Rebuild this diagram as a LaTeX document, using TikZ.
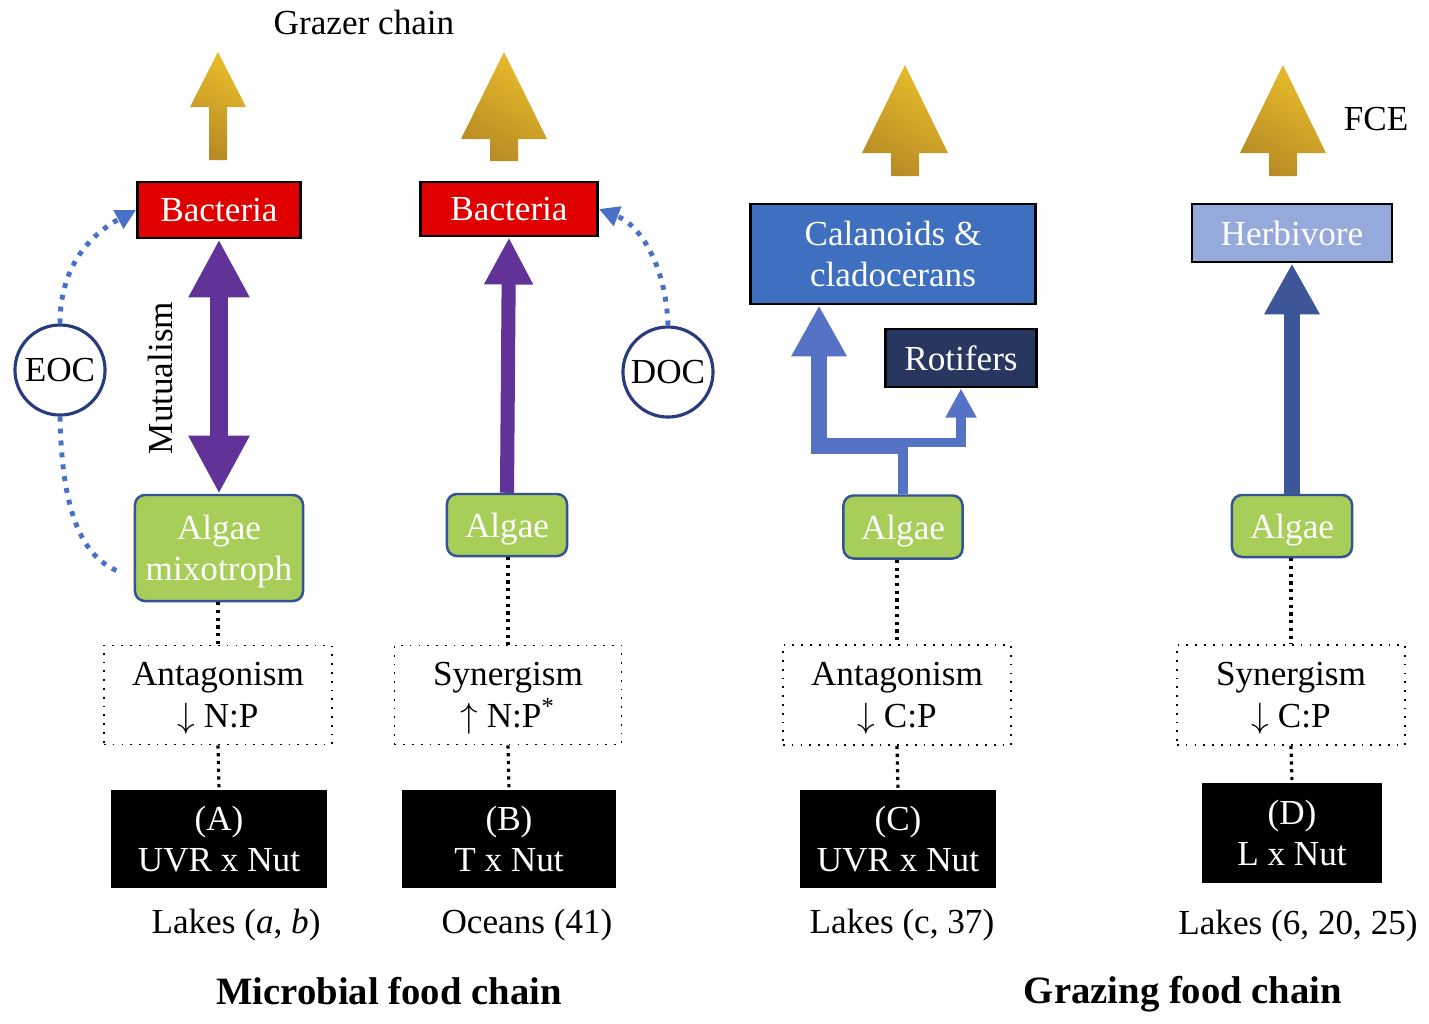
\documentclass[tikz,border=0pt]{standalone}
\usepackage{fontspec}
\setmainfont{Liberation Serif}
\usetikzlibrary{arrows.meta}
\definecolor{bactred}{RGB}{224,0,0}
\definecolor{alggreen}{RGB}{166,206,88}
\definecolor{algedge}{RGB}{52,82,150}
\definecolor{ringblue}{RGB}{40,60,125}
\definecolor{fbblue}{RGB}{72,112,200}
\definecolor{purpl}{RGB}{97,50,152}
\definecolor{calblue}{RGB}{63,111,191}
\definecolor{rotnavy}{RGB}{40,55,95}
\definecolor{herbblue}{RGB}{149,169,218}
\definecolor{branchblue}{RGB}{85,114,196}
\definecolor{herbarrow}{RGB}{60,86,152}
\definecolor{goldhi}{RGB}{232,188,42}
\definecolor{goldlo}{RGB}{184,140,36}

\begin{document}
\begin{tikzpicture}[x=0.01cm, y=0.01cm,
    every node/.style={font=\fontsize{10}{11.8}\selectfont, inner sep=0pt, align=center, text depth=0pt},
    bactbox/.style={draw=black, line width=0.8pt, fill=bactred, text=white},
    algbox/.style={draw=algedge, line width=0.7pt, fill=alggreen, text=white, rounded corners=0.1cm},
    zoobox/.style={draw=black, line width=0.8pt, text=white},
    ring/.style={circle, draw=ringblue, line width=0.9pt, fill=white, minimum size=0.9cm},
    outcome/.style={draw=black, dotted, line width=0.5pt},
    driver/.style={fill=black, text=white},
    linkdots/.style={line width=0.9pt, dash pattern=on 0.9pt off 1.3pt},
    feedback/.style={draw=fbblue, line width=1.4pt, dash pattern=on 1.4pt off 2pt},
    title/.style={font=\fontsize{11}{13}\selectfont\bfseries}
]
\useasboundingbox (0,0) rectangle (1429,-1023);

% gold arrows on top
\foreach \x/\tip/\base/\bot/\hw/\sw in {218/52/107/160/28/9, 504/52/139/161/43/14, 905/65/153/176/43/14, 1283/65/153/176/43/14}
    \shade[top color=goldhi, bottom color=goldlo, shading angle=-30]
        (\x,-\tip) -- (\x+\hw,-\base) -- (\x+\sw,-\base) -- (\x+\sw,-\bot)
        -- (\x-\sw,-\bot) -- (\x-\sw,-\base) -- (\x-\hw,-\base) -- cycle;

\node (grazer) at (364,-22) {Grazer chain};
\node (fce) at (1376,-119) {FCE};

% microbial food chain
\node[bactbox, minimum width=1.63cm, minimum height=0.56cm] (bacA) at (219,-210) {Bacteria};
\node[bactbox, minimum width=1.77cm, minimum height=0.54cm] (bacB) at (509,-209) {Bacteria};
\node[algbox, minimum width=1.68cm, minimum height=1.06cm] (algA) at (219,-548) {Algae\\mixotroph};
\node[algbox, minimum width=1.20cm, minimum height=0.62cm] (algB) at (507,-525) {Algae};
\node[ring] (eoc) at (60,-370) {EOC};
\node[ring] (doc) at (668,-372) {DOC};
\node[rotate=90] (mutual) at (160,-378) {Mutualism};

% grazing food chain
\node[zoobox, fill=calblue, minimum width=2.85cm, minimum height=1.00cm] (calC) at (893,-254) {Calanoids \&\\cladocerans};
\node[zoobox, fill=rotnavy, minimum width=1.51cm, minimum height=0.58cm] (rotC) at (961,-358) {Rotifers};
\node[zoobox, fill=herbblue, minimum width=2.00cm, minimum height=0.58cm] (herbD) at (1292,-233) {Herbivore};
\node[algbox, minimum width=1.19cm, minimum height=0.63cm] (algC) at (903,-527) {Algae};
\node[algbox, minimum width=1.20cm, minimum height=0.62cm] (algD) at (1292,-526) {Algae};

% interaction outcome
\node[outcome, minimum width=2.28cm, minimum height=0.99cm] (antA) at (218,-695) {Antagonism\\$\downarrow$ N:P};
\node[outcome, minimum width=2.27cm, minimum height=0.99cm] (synB) at (508,-695) {Synergism\\$\uparrow$ N:P\textsuperscript{*}};
\node[outcome, minimum width=2.28cm, minimum height=1.00cm] (antC) at (897,-695) {Antagonism\\$\downarrow$ C:P};
\node[outcome, minimum width=2.28cm, minimum height=1.00cm] (synD) at (1291,-695) {Synergism\\$\downarrow$ C:P};

% stressor pairs
\node[driver, minimum width=2.15cm, minimum height=0.98cm] (caseA) at (219,-839) {(A)\\UVR x Nut};
\node[driver, minimum width=2.14cm, minimum height=0.98cm] (caseB) at (509,-839) {(B)\\T x Nut};
\node[driver, minimum width=1.96cm, minimum height=0.98cm] (caseC) at (898,-839) {(C)\\UVR x Nut};
\node[driver, minimum width=1.79cm, minimum height=0.99cm] (caseD) at (1292,-833) {(D)\\L x Nut};

\node (siteA) at (236,-921) {Lakes (\textit{a}, \textit{b})};
\node (siteB) at (527,-921) {Oceans (41)};
\node (siteC) at (902,-921) {Lakes (c, 37)};
\node (siteD) at (1298,-922) {Lakes (6, 20, 25)};
\node[title] (microbial) at (389,-991) {Microbial food chain};
\node[title] (grazing) at (1183,-990) {Grazing food chain};

% purple links
\draw[purpl, line width=5.4pt, {Triangle[width=16.2pt,length=16.5pt]}-{Triangle[width=16.2pt,length=16.5pt]}] (bacA.south) -- (algA.north);
\draw[purpl, line width=4pt, -{Triangle[width=13pt,length=13.4pt]}] (algB.north) -- (bacB.south);

% grazer links
\draw[branchblue, line width=2.6pt] (algC.north) -- ++(0,48) coordinate (forkC);
\draw[branchblue, line width=4.6pt, -{Triangle[width=14.8pt,length=14.5pt]}] ([xshift=0.045cm]forkC) -| ([xshift=0.7cm]calC.south west);
\draw[branchblue, line width=2.6pt, -{Triangle[width=8.3pt,length=8.3pt]}] ([xshift=-0.045cm,yshift=0.04cm]forkC) -| (rotC.south);
\draw[herbarrow, line width=4.8pt, -{Triangle[width=14.8pt,length=14.5pt]}] (algD.north) -- (herbD.south);

% carbon feedback
\draw[feedback, -{Triangle[width=5.7pt,length=5.7pt]}] (eoc.north) .. controls (60,-262) and (95,-232) .. (bacA.west);
\draw[feedback] (eoc.south) .. controls (62,-520) and (85,-560) .. ([xshift=-0.11cm,yshift=-0.25cm]algA.west);
\draw[feedback, -{Triangle[width=5.7pt,length=5.7pt]}] (doc.north) .. controls (666,-265) and (640,-225) .. (bacB.east);

% dotted links
\foreach \up/\mid/\low in {algA/antA/caseA, algB/synB/caseB, algC/antC/caseC, algD/synD/caseD} {
    \draw[linkdots] (\mid.north |- \up.south) -- (\mid.north);
    \draw[linkdots] (\mid.south) -- (\low.north);
}
\end{tikzpicture}
\end{document}
